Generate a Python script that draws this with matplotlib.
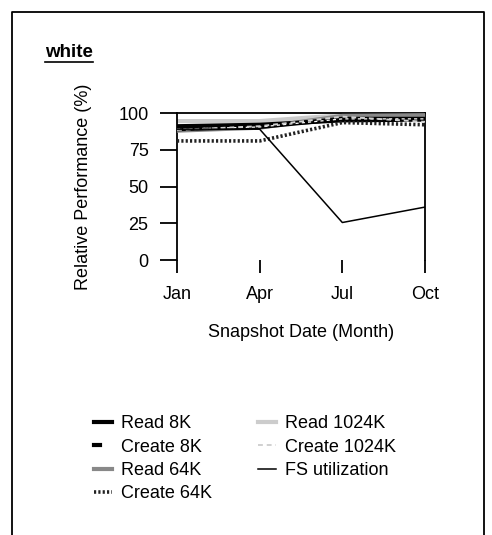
import matplotlib
matplotlib.use("Agg")
import matplotlib.pyplot as plt
from matplotlib.lines import Line2D
from matplotlib.legend_handler import HandlerTuple

plt.rcParams['font.family'] = ['Liberation Sans', 'DejaVu Sans']

months = [0, 3, 6, 9]
month_labels = ["Jan", "Apr", "Jul", "Oct"]

read_8k = [91, 92, 95, 95.5]
create_8k = [89, 90.5, 96, 96]
read_64k = [88, 90, 98, 98.5]
create_64k = [81, 81, 93.5, 92]
read_1024k = [94.5, 94.5, 98.5, 99]
create_1024k = [88.5, 91, 97.5, 94]
fs_util = [89, 89, 25.5, 36]


def main():
    fs = 13
    fig = plt.figure(figsize=(4.92, 5.35), dpi=100)
    ax = fig.add_axes([177/492, 1 - 260/535, (425 - 177)/492, (260 - 113)/535])

    h_r1024, = ax.plot(months, read_1024k, color='#cccccc', lw=3, zorder=2)
    h_r64, = ax.plot(months, read_64k, color='#888888', lw=3, zorder=3)
    h_r8, = ax.plot(months, read_8k, color='black', lw=3, zorder=4)
    c8_base, = ax.plot(months, create_8k, color='black', lw=3, zorder=5)
    c8_dash, = ax.plot(months, create_8k, color='white', lw=0.9,
                       linestyle=(0, (2.5, 2.5)), zorder=5.5)
    h_c64, = ax.plot(months, create_64k, color='#222222', lw=2.6,
                     linestyle=(0, (0.6, 0.6)), zorder=6)
    h_c1024, = ax.plot(months, create_1024k, color='#d0d0d0', lw=1.4,
                       linestyle=(0, (2.5, 2)), zorder=7)
    h_fs, = ax.plot(months, fs_util, color='black', lw=1.1, zorder=8)

    ax.set_xlim(0, 9)
    ax.set_ylim(0, 100)
    ax.set_xticks(months)
    ax.set_xticklabels(month_labels)
    ax.set_yticks([0, 25, 50, 75, 100])
    ax.spines['bottom'].set_visible(False)
    for s in ['top', 'left', 'right']:
        ax.spines[s].set_linewidth(1.3)
    ax.tick_params(axis='x', direction='out', length=9, width=1.3, labelsize=fs, pad=10)
    ax.tick_params(axis='y', direction='out', length=12, width=1.3, labelsize=fs, pad=8.5)
    ax.set_xlabel("Snapshot Date (Month)", fontsize=fs, labelpad=15)
    ax.set_ylabel("Relative Performance (%)", fontsize=fs, labelpad=19)

    handles = [h_r8, (c8_base, c8_dash), h_r64, h_c64, h_r1024, h_c1024, h_fs]
    labels = ['Read 8K', 'Create 8K', 'Read 64K', 'Create 64K',
              'Read 1024K', 'Create 1024K', 'FS utilization']
    fig.legend(handles, labels, loc='upper left',
               bbox_to_anchor=(78/492, 1 - 399/535), ncol=2, frameon=False,
               fontsize=fs, handlelength=1.0, handletextpad=0.5,
               columnspacing=2.55, labelspacing=0.35,
               handler_map={tuple: HandlerTuple(ndivide=None)})

    # title with underline
    t = fig.text(45/492, 1 - 57/535, "white", fontsize=13.5, fontweight='bold',
                 va='baseline', ha='left')
    fig.canvas.draw()
    bb = t.get_window_extent().transformed(fig.transFigure.inverted())
    fig.add_artist(Line2D([bb.x0, bb.x1], [bb.y0 - 0.002, bb.y0 - 0.002],
                          transform=fig.transFigure, color='black', lw=1.2))

    # outer frame (open at the bottom)
    fx0, fx1, fy1 = 12/492, 484/492, 1 - 12/535
    fig.add_artist(Line2D([fx0, fx0, fx1, fx1], [0, fy1, fy1, 0],
                          transform=fig.transFigure, color='black', lw=1.3))

    fig.savefig("out.png", dpi=100)


if __name__ == "__main__":
    main()
